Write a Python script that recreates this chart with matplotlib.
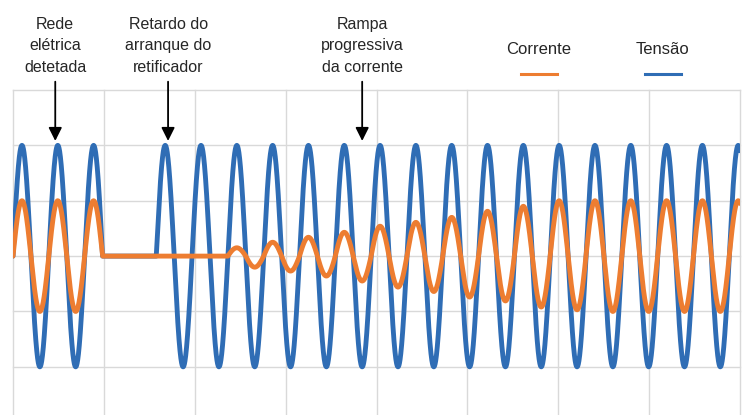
import numpy as np
import matplotlib
matplotlib.use("Agg")
import matplotlib.pyplot as plt
from matplotlib.lines import Line2D

plt.rcParams['font.family'] = ['Liberation Sans', 'DejaVu Sans']

# time axis in mains cycles
t_end = 20.3
grid_x = np.linspace(0, t_end, 9)
grid_y = [-2, -1, 0, 1, 2, 3]

# amplitude per half cycle
voltage_amp = 2.0
current_amp = 1.0
outage_start = 2.5      # grid lost (cycles)
voltage_back = 4.0      # grid detected again
ramp_start = 6.0        # rectifier starts ramping
ramp_peaks = [0.15, -0.20, 0.25, -0.27, 0.34, -0.36, 0.43, -0.45, 0.54, -0.56,
              0.61, -0.64, 0.70, -0.74, 0.81, -0.81, 0.90, -0.92, 1.00, -0.97]

labels = ['Rede\nelétrica\ndetetada', 'Retardo do\narranque do\nretificador',
          'Rampa\nprogressiva\nda corrente']
label_x = [1.18, 4.33, 9.75]

blue = '#2f6db5'
orange = '#ed7d31'

t = np.linspace(0, t_end, 6000)
half = np.floor(2 * t).astype(int)

v_env = np.where((t >= outage_start) & (t < voltage_back), 0.0, voltage_amp)
c_env = np.ones_like(t) * current_amp
c_env[(t >= outage_start) & (t < ramp_start)] = 0.0
k0 = int(2 * ramp_start)
for i, p in enumerate(ramp_peaks):
    c_env[half == k0 + i] = abs(p)

voltage = v_env * np.sin(2 * np.pi * t)
current = c_env * np.sin(2 * np.pi * t)

W, H = 744, 415
fig = plt.figure(figsize=(W / 100, H / 100), dpi=100)
ax = fig.add_axes([13 / W, 0, 727 / W, (H - 90) / H])
ax.set_xlim(0, t_end)
ax.set_ylim(-2.87, 3)

for gx in grid_x:
    ax.axvline(gx, color='#d9d9d9', lw=1.0, zorder=0, clip_on=False)
for gy in grid_y:
    ax.axhline(gy, color='#d9d9d9', lw=1.0, zorder=0, clip_on=False)

ax.plot(t, voltage, color=blue, lw=3.5, zorder=2, solid_capstyle='round')
ax.plot(t, current, color=orange, lw=3.5, zorder=3, solid_capstyle='round')

for s in ax.spines.values():
    s.set_visible(False)
ax.set_xticks([])
ax.set_yticks([])

for lab, lx in zip(labels, label_x):
    ax.annotate('', xy=(lx, 2.08), xytext=(lx, 3.15), annotation_clip=False,
                arrowprops=dict(arrowstyle='-|>', color='black', lw=1.3,
                                mutation_scale=20, shrinkA=0, shrinkB=0))
    ax.text(lx, 3.8, lab, ha='center', va='center', fontsize=11.5,
            color='#262626', linespacing=1.55, clip_on=False)

# legend drawn by hand: label above a short line
legend_items = [('Corrente', orange, 539), ('Tensão', blue, 663)]
for name, col, px in legend_items:
    fig.text(px / W, 1 - 50 / H, name, ha='center', va='center',
             fontsize=12, color='#262626')
    fig.add_artist(Line2D([(px - 18) / W, (px + 18) / W],
                          [1 - 74 / H, 1 - 74 / H], color=col, lw=2.2,
                          transform=fig.transFigure))

fig.savefig('out.png', dpi=100)
